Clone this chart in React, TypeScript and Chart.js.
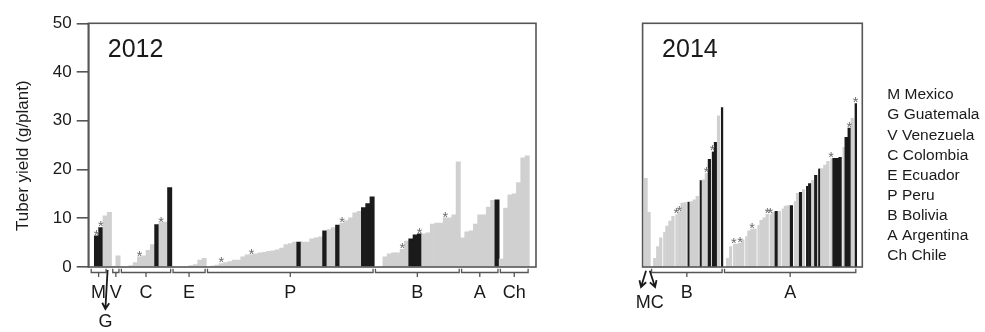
import React, { useEffect, useRef } from 'react';
import { Chart, registerables } from 'chart.js';

Chart.register(...registerables);

// ---------- data ----------
const Y_TICKS = [0, 10, 20, 30, 40, 50];
const Y_TITLE = 'Tuber yield (g/plant)';
const YEARS = ['2012', '2014'];

// 2012 panel: one value per bar slot (null = empty slot)
const LEFT_VALUES: (number | null)[] = [
  null, 6.4, 8.1, 10.5, // M
  11.2, // G
  null, 2.3, // V
  null, null, 0.3, 0.9, 2.1, 2.3, 3.4, 4.6, 8.7, 9.1, 9.2, 16.3, // C
  null, null, null, null, 0.3, 0.5, 1.4, 1.8, // E
  null, 0.2, 0.4, 0.7, 0.9, 1.1, 1.4, 1.4, 2.1, 2.5, 2.5, 2.7, 2.9, 3.0, 3.2, 3.3, 3.5, 3.9,
  4.6, 4.8, 5.1, 5.1, 5.1, 5.1, 5.8, 6.0, 6.2, 7.4, 7.7, 8.1, 8.6, 9.0, 9.5, 10.1, 11.1, 11.4,
  12.2, 13.0, 14.4, // P
  null, null, 2.1, 2.7, 2.9, 2.9, 3.6, 5.3, 5.8, 6.6, 6.8, 6.8, 7.0, 8.8, 9.0, 9.0, 10.1, 10.1,
  10.7, 21.6, // B
  6.0, 7.2, 7.4, 8.8, 10.7, 10.7, 12.3, 13.7, 13.8, // A
  1.6, 12.1, 14.8, 15.0, 17.3, 22.4, 22.8, // Ch
];
const LEFT_BLACK = [1, 2, 15, 18, 48, 54, 57, 63, 64, 65, 74, 75, 76, 94];
const LEFT_STARS = [1, 2, 11, 16, 30, 37, 58, 72, 76, 82];
const LEFT_GROUPS = [
  { label: 'M', from: 0, to: 3 },
  { label: 'V', from: 5, to: 6 },
  { label: 'C', from: 7, to: 18 },
  { label: 'E', from: 19, to: 26 },
  { label: 'P', from: 27, to: 65 },
  { label: 'B', from: 66, to: 85 },
  { label: 'A', from: 86, to: 94 },
  { label: 'Ch', from: 95, to: 101 },
];
const LEFT_POINTERS = [{ label: 'G', slot: 4 }];

// 2014 panel
const RIGHT_VALUES: (number | null)[] = [
  18.2, // M
  11.2, // C
  null, 1.8, 4.2, 6.0, 7.2, 8.4, 9.4, 10.4, 10.8, 11.3, 13.1, 13.2, 13.4, 13.4, 13.8, 14.5, 17.8,
  17.9, 19.2, 22.1, 23.7, 25.6, 31.0, 32.8, // B
  null, 1.8, 4.2, 4.7, 4.7, 4.9, 5.6, 6.3, 7.4, 7.8, 7.8, 8.6, 9.6, 10.1, 10.8, 10.8, 11.2, 11.4,
  11.4, 12.0, 12.5, 12.6, 12.6, 13.5, 15.1, 15.3, 15.9, 16.6, 17.1, 17.8, 18.8, 20.2, 20.2, 20.9,
  21.7, 22.3, 22.3, 22.3, 22.5, 24.6, 26.6, 28.5, 30.5, 33.6, // A
];
const RIGHT_BLACK = [14, 18, 21, 22, 23, 25, 43, 48, 51, 53, 54, 56, 57, 62, 63, 64, 66, 67, 69];
const RIGHT_STARS = [10, 11, 20, 22, 29, 31, 35, 40, 41, 61, 67, 69];
const RIGHT_GROUPS = [
  { label: 'B', from: 2, to: 25 },
  { label: 'A', from: 26, to: 69 },
];
const RIGHT_SPLIT = { label: 'MC', slots: [0, 1] };
const RIGHT_SEAMS = [6, 10, 14, 18, 22, 25, 29, 33, 37, 41, 45, 49, 53, 57, 61, 65, 69];

const LEGEND = [
  'M Mexico',
  'G Guatemala',
  'V Venezuela',
  'C Colombia',
  'E Ecuador',
  'P Peru',
  'B Bolivia',
  'A Argentina',
  'Ch Chile',
];

// ---------- styles ----------
const FONT = '"Liberation Sans", Arial, Helvetica, sans-serif';
const BLACK = '#1a1a1a';
const GRAY = '#d0d0d0';
const AXIS = '#555555';
const TEXT = '#1a1a1a';
const STAR = '#6a6a6a';
const W = 985;
const H = 332;

function drawArrow(ctx: CanvasRenderingContext2D, x1: number, y1: number, x2: number, y2: number) {
  const ang = Math.atan2(y2 - y1, x2 - x1);
  const hl = 7;
  const spread = Math.PI / 6;
  ctx.beginPath();
  ctx.moveTo(x1, y1);
  ctx.lineTo(x2, y2);
  ctx.moveTo(x2 - hl * Math.cos(ang - spread), y2 - hl * Math.sin(ang - spread));
  ctx.lineTo(x2, y2);
  ctx.lineTo(x2 - hl * Math.cos(ang + spread), y2 - hl * Math.sin(ang + spread));
  ctx.stroke();
}

type Group = { label: string; from: number; to: number };

interface PanelCfg {
  values: (number | null)[];
  black: number[];
  stars: number[];
  groups: Group[];
  seams: number[];
  year: string;
  xMin: number;
  xMax: number;
  padding: { left: number; right: number; top: number; bottom: number };
  showY: boolean;
  extra: (chart: any) => void;
}

function decorPlugin(cfg: PanelCfg) {
  return {
    id: 'decor_' + cfg.year,
    afterDatasetsDraw(chart: any) {
      const { ctx, chartArea: a, scales } = chart;
      const x = scales.x;
      const y = scales.y;
      ctx.save();
      // frame
      ctx.strokeStyle = AXIS;
      ctx.lineWidth = 1.6;
      ctx.strokeRect(a.left, a.top, a.right - a.left, a.bottom - a.top);
      // year
      ctx.fillStyle = TEXT;
      ctx.font = `25px ${FONT}`;
      ctx.textAlign = 'left';
      ctx.textBaseline = 'alphabetic';
      ctx.fillText(cfg.year, a.left + 19.5, a.top + 33.4);
      // stars
      ctx.fillStyle = STAR;
      ctx.font = `14.5px ${FONT}`;
      ctx.textAlign = 'center';
      cfg.stars.forEach((i) => {
        const v = cfg.values[i];
        if (v == null) return;
        ctx.fillText('*', x.getPixelForValue(i), y.getPixelForValue(v) + 3.9);
      });
      // brackets
      ctx.strokeStyle = AXIS;
      ctx.lineWidth = 1.3;
      ctx.fillStyle = TEXT;
      ctx.font = `18px ${FONT}`;
      cfg.groups.forEach((g) => {
        const l = x.getPixelForValue(g.from - 0.5) + 1.2;
        const r = x.getPixelForValue(g.to + 0.5) - 1.2;
        const yl = a.bottom + 5.5;
        const cx = (l + r) / 2;
        ctx.beginPath();
        ctx.moveTo(l, a.bottom + 1.8);
        ctx.lineTo(l, yl);
        ctx.lineTo(r, yl);
        ctx.lineTo(r, a.bottom + 1.8);
        ctx.moveTo(cx, yl);
        ctx.lineTo(cx, a.bottom + 10);
        ctx.stroke();
        ctx.fillText(g.label, cx, a.bottom + 31.3);
      });
      cfg.extra(chart);
      ctx.restore();
    },
  };
}

const LEFT: PanelCfg = {
  values: LEFT_VALUES,
  black: LEFT_BLACK,
  stars: LEFT_STARS,
  groups: LEFT_GROUPS,
  seams: [],
  year: YEARS[0],
  xMin: -0.896,
  xMax: LEFT_VALUES.length + 1.05,
  padding: { left: 0, right: W - 536, top: 23.3, bottom: H - 267 },
  showY: true,
  extra(chart: any) {
    const { ctx, chartArea: a, scales } = chart;
    const x = scales.x;
    // y title
    ctx.save();
    ctx.fillStyle = TEXT;
    ctx.font = `17px ${FONT}`;
    ctx.textAlign = 'center';
    ctx.textBaseline = 'middle';
    ctx.translate(23.3, (a.top + a.bottom) / 2 + 10.5);
    ctx.rotate(-Math.PI / 2);
    ctx.fillText(Y_TITLE, 0, 0);
    ctx.restore();
    // pointer labels (G)
    ctx.strokeStyle = TEXT;
    ctx.lineWidth = 1.8;
    ctx.fillStyle = TEXT;
    ctx.font = `18px ${FONT}`;
    ctx.textAlign = 'center';
    LEFT_POINTERS.forEach((p) => {
      const px = x.getPixelForValue(p.slot);
      drawArrow(ctx, px - 1.8, a.bottom + 3, px - 4, a.bottom + 42);
      ctx.fillText(p.label, px - 4, a.bottom + 60);
    });
  },
};

const RIGHT: PanelCfg = {
  values: RIGHT_VALUES,
  black: RIGHT_BLACK,
  stars: RIGHT_STARS,
  groups: RIGHT_GROUPS,
  seams: RIGHT_SEAMS,
  year: YEARS[1],
  xMin: -1.06,
  xMax: RIGHT_VALUES.length + 1.24,
  padding: { left: 554.3, right: W - 862.3, top: 23.3, bottom: H - 267 },
  showY: false,
  extra(chart: any) {
    const { ctx, chartArea: a, scales } = chart;
    const x = scales.x;
    const [m, c] = RIGHT_SPLIT.slots.map((s) => x.getPixelForValue(s));
    ctx.strokeStyle = TEXT;
    ctx.lineWidth = 1.8;
    drawArrow(ctx, m + 0.2, a.bottom + 3.7, m - 4.8, a.bottom + 20);
    drawArrow(ctx, c + 0.9, a.bottom + 3.7, c + 6.2, a.bottom + 20);
    ctx.fillStyle = TEXT;
    ctx.font = `18px ${FONT}`;
    ctx.textAlign = 'center';
    ctx.textBaseline = 'alphabetic';
    ctx.fillText(RIGHT_SPLIT.label, (m + c) / 2 + 2.3, a.bottom + 41);
    // legend
    ctx.textAlign = 'left';
    ctx.font = `15.5px ${FONT}`;
    LEGEND.forEach((t, i) => {
      ctx.fillText(t, a.right + 25, 99.3 + 20.1 * i);
    });
  },
};

function makeChart(canvas: HTMLCanvasElement, cfg: PanelCfg) {
  const data = cfg.values.map((v, i) => ({ x: i, y: v }));
  const colors = cfg.values.map((_, i) => (cfg.black.includes(i) ? BLACK : GRAY));
  return new Chart(canvas, {
    type: 'bar',
    data: {
      datasets: [
        {
          data: data as any,
          backgroundColor: colors,
          borderColor: '#ffffff',
          borderWidth: ((c: any) =>
            cfg.seams.includes(c.dataIndex) ? { left: 1, right: 0, top: 0, bottom: 0 } : 0) as any,
          borderSkipped: 'start',
          categoryPercentage: 1,
          barPercentage: 1,
        },
      ],
    },
    options: {
      responsive: false,
      animation: false,
      events: [],
      layout: { padding: cfg.padding },
      plugins: { legend: { display: false }, tooltip: { enabled: false }, title: { display: false } },
      scales: {
        x: {
          type: 'linear',
          min: cfg.xMin,
          max: cfg.xMax,
          offset: false,
          display: false,
          grid: { offset: false },
        },
        y: {
          type: 'linear',
          min: Y_TICKS[0],
          max: Y_TICKS[Y_TICKS.length - 1],
          display: cfg.showY,
          afterFit: (s: any) => {
            s.width = 88.3;
          },
          afterBuildTicks: (s: any) => {
            s.ticks = Y_TICKS.map((v) => ({ value: v }));
          },
          ticks: {
            color: TEXT,
            font: { family: FONT, size: 17 },
            padding: 5,
          },
          grid: {
            drawOnChartArea: false,
            drawTicks: true,
            tickLength: 11.6,
            color: AXIS,
            lineWidth: 1.6,
          },
          border: { display: true, color: AXIS, width: 1.6 },
        },
      },
    },
    plugins: [decorPlugin(cfg)],
  });
}

export default function App() {
  const leftRef = useRef<HTMLCanvasElement>(null);
  const rightRef = useRef<HTMLCanvasElement>(null);
  useEffect(() => {
    document.body.style.margin = '0';
    const charts = [makeChart(leftRef.current!, LEFT), makeChart(rightRef.current!, RIGHT)];
    return () => charts.forEach((c) => c.destroy());
  }, []);
  return (
    <div style={{ position: 'absolute', left: 0, top: 0, width: W, height: H, background: '#fff' }}>
      <canvas ref={leftRef} width={W} height={H} style={{ position: 'absolute', left: 0, top: 0 }} />
      <canvas ref={rightRef} width={W} height={H} style={{ position: 'absolute', left: 0, top: 0 }} />
    </div>
  );
}
